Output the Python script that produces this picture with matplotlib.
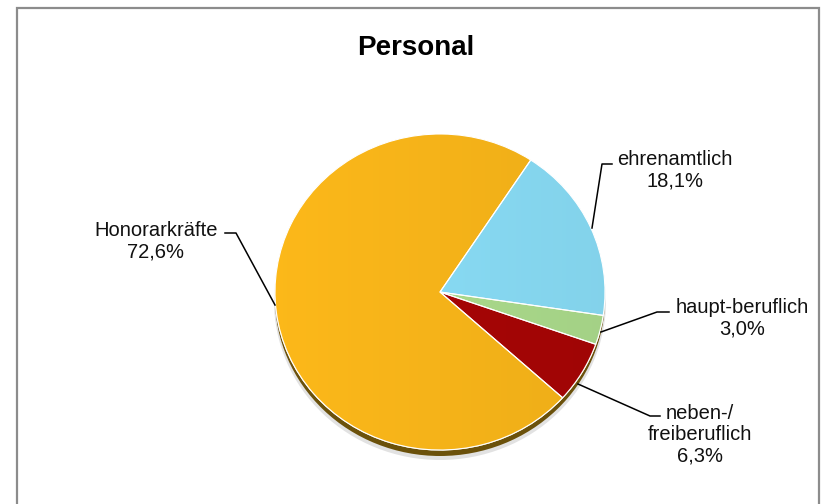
import numpy as np
import matplotlib.pyplot as plt
from matplotlib.colors import to_rgb
from matplotlib.patches import Ellipse, Rectangle

plt.rcParams["font.family"] = ["Liberation Sans", "DejaVu Sans"]

# data (share of staff, percent)
CATEGORIES = ["Honorarkräfte", "ehrenamtlich", "haupt-beruflich", "neben-/\nfreiberuflich"]
SHARES = [72.6, 18.1, 3.0, 6.3]
COLORS = ["#F5B319", "#87D9F2", "#A9D88A", "#A50606"]
TITLE = "Personal"

W, H = 823, 504
CX, CY = 440, 292      # pie centre in pixels
RX, RY = 165, 158      # pie radii in pixels (slightly squashed)


def to_data(px, py):
    return (px - CX) / RX, (CY - py) / RY


fig = plt.figure(figsize=(W / 100, H / 100), dpi=100)
ax = fig.add_axes([0, 0, 1, 1])

# drop shadow below the pie
ax.add_patch(Ellipse((0, -9 / RY), 2 * (RX + 1) / RX, 2 * (RY + 1) / RY,
                     color="#BFBFBF", alpha=0.45, zorder=1, lw=0))
ax.add_patch(Ellipse((0, -6 / RY), 2, 2, color="#6B510B", zorder=2, lw=0))

wedges, _ = ax.pie(SHARES, colors=COLORS, startangle=-42, counterclock=False,
                   radius=1, center=(0, 0), frame=True,
                   wedgeprops=dict(edgecolor="white", linewidth=0.8))

# soft left-to-right shading inside each slice
ramp = np.linspace(1.03, 0.97, 256)
for w, c in zip(wedges, COLORS):
    w.set_zorder(3)
    rgb = np.clip(np.outer(ramp, to_rgb(c)), 0, 1)[None, :, :]
    im = ax.imshow(rgb, extent=(-1, 1, -1, 1), aspect="auto", zorder=3.5,
                   interpolation="bilinear")
    im.set_clip_path(w)
    edge = plt.matplotlib.patches.Wedge(w.center, w.r, w.theta1, w.theta2,
                                        fill=False, edgecolor="white",
                                        linewidth=0.8, zorder=3.6)
    ax.add_patch(edge)

ax.set_xlim(-CX / RX, (W - CX) / RX)
ax.set_ylim(-(H - CY) / RY, CY / RY)
ax.set_aspect("auto")
ax.axis("off")

# labels: text centre, leader polyline (pixels)
LABEL_POS = [(156, 241), (675, 170), (742, 318), (700, 435)]
LEADERS = [
    [(225, 233), (236, 233), (275, 305)],
    [(612, 164), (602, 164), (592, 228)],
    [(669, 312), (657, 312), (601, 332)],
    [(660, 416), (650, 416), (578, 384)],
]

for name, val, (lx, ly), pts in zip(CATEGORIES, SHARES, LABEL_POS, LEADERS):
    txt = f"{name}\n{val:.1f}%".replace(".", ",")
    x, y = to_data(lx, ly)
    ax.text(x, y, txt, ha="center", va="center", fontsize=14.5,
            linespacing=1.15, color="#111111", zorder=5)
    xs, ys = zip(*[to_data(px, py) for px, py in pts])
    ax.plot(xs, ys, color="black", lw=1.1, zorder=4)

tx, ty = to_data(416, 48)
ax.text(tx, ty, TITLE, ha="center", va="center", fontsize=20,
        fontweight="bold", color="black", zorder=5)

# chart area border
fig.add_artist(Rectangle((17 / W, -0.05), (819 - 17) / W, 1.05 - 8 / H,
                         transform=fig.transFigure, fill=False,
                         edgecolor="#8C8C8C", linewidth=1.6))

fig.savefig("out.png", dpi=100, facecolor="white")
